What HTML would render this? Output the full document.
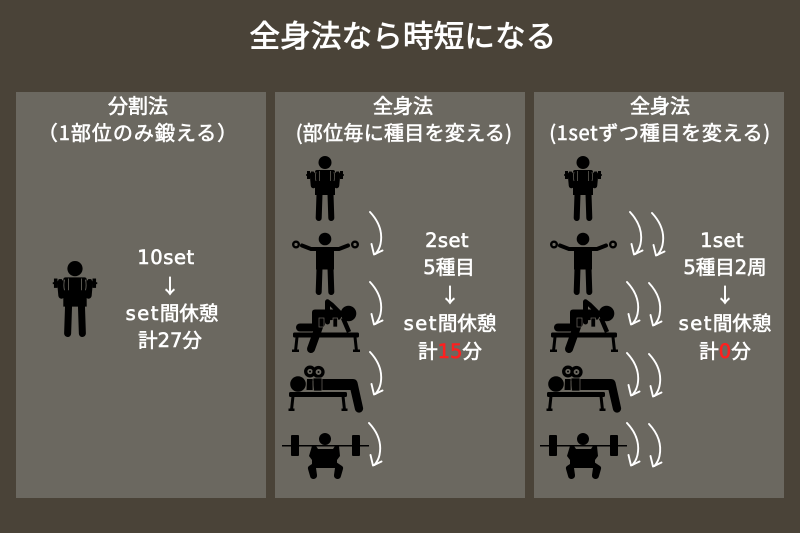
<!DOCTYPE html>
<html lang="ja"><head><meta charset="utf-8"><style>
html,body{margin:0;padding:0;background:#4a4338;}
svg{display:block;}
text{font-family:"DejaVu Sans","Noto Sans CJK JP",sans-serif;font-weight:400;fill:#fff;stroke:#fff;stroke-width:.6px;text-anchor:middle;}
.jp{font-family:"Noto Sans CJK JP",sans-serif;}
.t{stroke-width:.8px;}
.r{fill:#ff1f1f;stroke:#ff1f1f;}
.l{letter-spacing:1.500px;}
</style></head><body>
<svg width="800" height="533" viewBox="0 0 800 533" xmlns="http://www.w3.org/2000/svg">
<defs>
<g id="curl">
<circle cx="325" cy="162.500" r="6.500" fill="#000"/>
<path d="M317 170h16q2 0 2 2v23h-20v-23q0-2 2-2z" fill="#000"/>
<path d="M319.500 194l-.8 24M330.500 194l.8 24" stroke="#000" stroke-width="6" stroke-linecap="round"/>
<path d="M312.500 174.500l1 11M337.500 174.500l-1 11" stroke="#000" stroke-width="5.500" stroke-linecap="round"/>
<rect x="307" y="171" width="3" height="8" fill="#000"/><rect x="340" y="171" width="3" height="8" fill="#000"/>
<path d="M306 175h13M331 175h13" stroke="#000" stroke-width="1.600"/>
<rect x="311" y="171.500" width="2.800" height="7" fill="#000"/><rect x="336.200" y="171.500" width="2.800" height="7" fill="#000"/>
<path d="M316 172q-1 5 0 9M334 172q1 5 0 9M319.500 171v10M330.500 171v10" fill="none" stroke="#6b6860" stroke-width=".7"/>
</g>
<g id="raise">
<circle cx="325" cy="239" r="6.300" fill="#000"/>
<path d="M302 245.500l9 3.500h28l9-3.500" fill="none" stroke="#000" stroke-width="4" stroke-linecap="round" stroke-linejoin="round"/>
<path d="M316 247.500h18v22h-18z" fill="#000"/>
<path d="M319.500 268l-.8 24M330.500 268l.8 24" stroke="#000" stroke-width="6" stroke-linecap="round"/>
<circle cx="296" cy="244.500" r="2.800" fill="none" stroke="#000" stroke-width="2.400"/>
<circle cx="355" cy="244.500" r="2.800" fill="none" stroke="#000" stroke-width="2.400"/>
</g>
<g id="row">
<circle cx="348.500" cy="313.500" r="7.800" fill="#000"/>
<path d="M315 309.500h22l6 4-3 6-15 1v5h-13v-13q0-3 3-3z" fill="#000"/>
<path d="M327.500 301.500l4 3 8 8" fill="none" stroke="#000" stroke-width="4.500" stroke-linecap="round" stroke-linejoin="round"/>
<path d="M327.500 302v20" stroke="#000" stroke-width="5" stroke-linecap="round"/>
<path d="M343 318l6 14" stroke="#000" stroke-width="4.500"/>
<path d="M320 324l-9 25" stroke="#000" stroke-width="8" stroke-linecap="round"/>
<rect x="296" y="323.500" width="20" height="8" rx="4" fill="#000"/>
<rect x="293" y="332.500" width="66" height="5" rx="1.500" fill="#000"/>
<path d="M297 337l-1.500 14M355 337l1.500 14" stroke="#000" stroke-width="3"/>
<rect x="292" y="349.500" width="7" height="2.500" fill="#000"/><rect x="353" y="349.500" width="7" height="2.500" fill="#000"/>
<rect x="319" y="318" width="5" height="9" fill="#000" stroke="#6b6860" stroke-width=".7"/>
<rect x="333" y="318" width="4.500" height="9" fill="#000" stroke="#6b6860" stroke-width=".7"/>
</g>
<g id="press">
<circle cx="298" cy="384" r="7.800" fill="#000"/>
<path d="M307 379h46q3.500 0 4.500 3.500l5.500 25a4 4 0 0 1-8 2l-4.500-19.500h-44z" fill="#000"/>
<circle cx="310" cy="371.500" r="4.300" fill="none" stroke="#000" stroke-width="3.300"/>
<circle cx="318.500" cy="372" r="4.500" fill="#6b6860" stroke="#000" stroke-width="3.300"/>
<circle cx="318.500" cy="372" r="1" fill="#000"/><circle cx="310" cy="371.500" r="1" fill="#000"/>
<rect x="313" y="378" width="9" height="13" rx="1" fill="#000" stroke="#6b6860" stroke-width=".7"/>
<path d="M313 381q0 15 5 15.500 5 0 3-5" fill="none" stroke="#6b6860" stroke-width=".7"/>
<rect x="289" y="392" width="58" height="5" rx="1.500" fill="#000"/>
<path d="M293 396l-1.500 14M343 396l1.500 14" stroke="#000" stroke-width="3"/>
<rect x="288.500" y="408.500" width="6" height="2.500" fill="#000"/><rect x="341.500" y="408.500" width="6" height="2.500" fill="#000"/>
</g>
<g id="squat">
<circle cx="325" cy="439" r="6" fill="#000"/>
<path d="M282 445.700h87" stroke="#000" stroke-width="1.500"/>
<rect x="291" y="435" width="8" height="21" rx="1" fill="#000"/>
<rect x="352" y="435" width="8" height="21" rx="1" fill="#000"/>
<path d="M312 446h4l2 3h15l2-3h4l1 10-3 4v4h-25v-4l-3-4z" fill="#000"/>
<path d="M315 462h21l6 4q1.500 1 1 3l-2 7a3.500 3.500 0 0 1-7-1l1-7h-19l1 7a3.500 3.500 0 0 1-7 1l-2-7q-.5-2 1-3z" fill="#000"/>
</g>
<g id="arrow" fill="none" stroke="#fff" stroke-width="1.900" stroke-linecap="round" stroke-linejoin="round">
<path d="M0 0q14 15 10.500 32-1 5-5 10"/>
<path d="M1.500 32l2.500 10.500 8.500-4"/>
</g>
<g id="fig"><use href="#curl"/><use href="#raise"/><use href="#row"/><use href="#press"/><use href="#squat"/></g>
</defs>
<rect width="800" height="533" fill="#4a4338"/>
<rect x="16" y="92" width="250" height="406" fill="#6b6860"/>
<rect x="275" y="92" width="250" height="406" fill="#6b6860"/>
<rect x="534" y="92" width="250" height="406" fill="#6b6860"/>
<text class="jp t" x="403" y="47" font-size="30.500" letter-spacing=".2">全身法なら時短になる</text>
<g font-size="20">
<text class="jp" x="138" y="113">分割法</text>
<text class="jp" x="138" y="140" letter-spacing="1">（1部位のみ鍛える）</text>
<text class="jp" x="403" y="113">全身法</text>
<text class="jp" x="404" y="140" letter-spacing=".3">(部位毎に種目を変える)</text>
<text class="jp" x="660" y="113">全身法</text>
<text class="jp" x="660" y="140" letter-spacing=".7">(1setずつ種目を変える)</text>
</g>
<g transform="translate(75 268) scale(1.170) translate(-325 -162)"><use href="#curl"/></g>
<use href="#fig"/>
<use href="#fig" x="258"/>
<use href="#arrow" x="370" y="212"/><use href="#arrow" x="370" y="282"/><use href="#arrow" x="370" y="352"/><use href="#arrow" x="369" y="423"/>
<use href="#arrow" x="630" y="212"/><use href="#arrow" x="652" y="213"/>
<use href="#arrow" x="627" y="282"/><use href="#arrow" x="649" y="283"/>
<use href="#arrow" x="627" y="353"/><use href="#arrow" x="649" y="354"/>
<use href="#arrow" x="627" y="423"/><use href="#arrow" x="649" y="424"/>
<g font-size="19.500">
<text x="166" y="264" letter-spacing=".6">10set</text>
<text x="170" y="293" class="jp">↓</text>
<text x="172" y="320"><tspan class="l">set</tspan>間休憩</text>
<text x="170" y="347">計27分</text>
<text x="447" y="247" letter-spacing=".4">2set</text>
<text x="449" y="274">5種目</text>
<text x="450" y="302" class="jp">↓</text>
<text x="450" y="330"><tspan class="l">set</tspan>間休憩</text>
<text x="450" y="358">計<tspan class="r">15</tspan>分</text>
<text x="722" y="247" letter-spacing=".4">1set</text>
<text x="725" y="274">5種目2周</text>
<text x="725" y="302" class="jp">↓</text>
<text x="725" y="330"><tspan class="l">set</tspan>間休憩</text>
<text x="725" y="358">計<tspan class="r">0</tspan>分</text>
</g>
</svg>
</body></html>
